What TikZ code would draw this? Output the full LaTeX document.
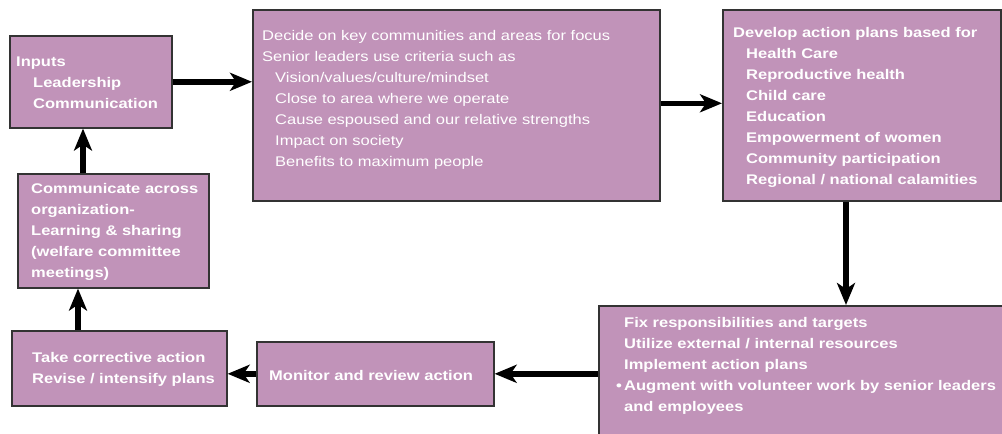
\documentclass[tikz,border=0pt]{standalone}
\usepackage{fontspec}
\setmainfont{Liberation Sans}
\newfontfamily\boxfont[FakeStretch=1.18]{Liberation Sans}
\usetikzlibrary{arrows.meta,calc}
\definecolor{boxfill}{HTML}{C193B9}
\definecolor{boxline}{HTML}{333333}
\tikzset{
  stagebox/.style={draw=boxline, line width=1.6pt, fill=boxfill, inner sep=0pt, anchor=north west},
  boxtext/.style={anchor=north west, inner sep=0pt, align=left, text=white,
    font=\boxfont\fontsize{14}{21}\selectfont\bfseries},
  plaintext/.style={anchor=north west, inner sep=0pt, align=left, text=white,
    font=\boxfont\fontsize{14}{21}\selectfont},
  flow/.style={line width=5.5pt, -{Stealth[length=22pt,width=18pt,inset=6pt]}},
}
\begin{document}
\begin{tikzpicture}[x=1pt,y=-1pt]
\useasboundingbox (0,0) rectangle (1002,434);
\clip (0,0) rectangle (1002,434);
% boxes
\node[stagebox, minimum width=162pt, minimum height=92pt] (inputs) at (9,35) {};
\node[stagebox, minimum width=407pt, minimum height=191pt] (decide) at (252,9) {};
\node[stagebox, minimum width=278pt, minimum height=191pt] (develop) at (722,9) {};
\node[stagebox, minimum width=191pt, minimum height=114pt] (comm) at (17,173) {};
\node[stagebox, minimum width=215pt, minimum height=75pt] (take) at (11,330) {};
\node[stagebox, minimum width=237pt, minimum height=64pt] (monitor) at (256,341) {};
\node[stagebox, minimum width=412pt, minimum height=140pt] (fix) at (598,305) {};
% texts
\node[boxtext] (inputsT) at (16,57) {Inputs\\\hspace{17pt}Leadership\\\hspace{17pt}Communication};
\node[plaintext] (decideT) at (262,30) {Decide on key communities and areas for focus\\
Senior leaders use criteria such as\\
\hspace{13pt}Vision/values/culture/mindset\\
\hspace{13pt}Close to area where we operate\\
\hspace{13pt}Cause espoused and our relative strengths\\
\hspace{13pt}Impact on society\\
\hspace{13pt}Benefits to maximum people};
\node[boxtext] (developT) at (733,27) {Develop action plans based for\\
\hspace{13pt}Health Care\\
\hspace{13pt}Reproductive health\\
\hspace{13pt}Child care\\
\hspace{13pt}Education\\
\hspace{13pt}Empowerment of women\\
\hspace{13pt}Community participation\\
\hspace{13pt}Regional / national calamities};
\node[boxtext] (commT) at (31,183) {Communicate across\\organization-\\Learning \& sharing\\(welfare committee\\meetings)};
\node[boxtext] (takeT) at (32,352) {Take corrective action\\Revise / intensify plans};
\node[boxtext] (monitorT) at (269,370) {Monitor and review action};
\node[boxtext] (fixT) at (624,317) {Fix responsibilities and targets\\
Utilize external / internal resources\\
Implement action plans\\
\llap{\textbullet\,}Augment with volunteer work by senior leaders\\
and employees};
% connectors
\draw[flow] (inputs.east) -- (inputs.east -| decide.west);
\draw[flow] ($(decide.east)+(0,-2)$) coordinate (e1) -- (e1 -| develop.west);
\draw[flow] ($(develop.south west)+(124,0)$) coordinate (d1) -- (d1 |- fix.north);
\draw[flow] (fix.west |- monitor.east) -- (monitor.east);
\draw[flow] (monitor.west) -- (monitor.west -| take.east);
\draw[flow] ($(take.north west)+(67,0)$) coordinate (t1) -- (t1 |- comm.south);
\draw[flow] ($(comm.north west)+(66,0)$) coordinate (c1) -- (c1 |- inputs.south);
\end{tikzpicture}
\end{document}
